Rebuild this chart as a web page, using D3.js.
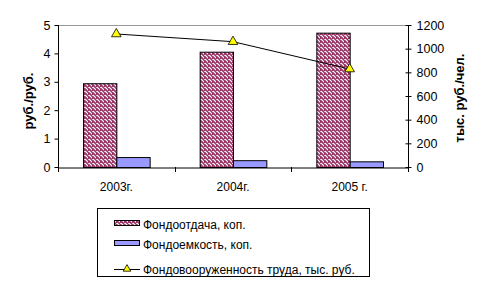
<!DOCTYPE html>
<html><head><meta charset="utf-8">
<script src="https://cdn.jsdelivr.net/npm/d3@7"></script>
<style>body{margin:0;background:#fff}svg{display:block;font-family:"Liberation Sans",Arial,sans-serif}</style>
</head><body><svg id="c" width="491" height="286"></svg>
<script>
const categories = ["2003г.", "2004г.", "2005 г."];
const fondootdacha = [2.95, 4.06, 4.73];
const fondoemkost = [0.35, 0.24, 0.2];
const fondovooruzh = [1124, 1059, 828];
const leftTicks = [0, 1, 2, 3, 4, 5];
const rightTicks = [0, 200, 400, 600, 800, 1000, 1200];
const seriesNames = ["Фондоотдача, коп.", "Фондоемкость, коп.", "Фондовооруженность труда, тыс. руб."];

const svg = d3.select("#c");
const L = 58, R = 408, T = 25, B = 167;
const defs = svg.append("defs");
const pat = defs.append("pattern").attr("id","stripe").attr("patternUnits","userSpaceOnUse")
  .attr("width",4).attr("height",4);
pat.append("rect").attr("width",4).attr("height",4).attr("fill","#fff");
pat.append("path").attr("d","M-1,1 l2,2 M0,0 l4,4 M3,-1 l2,2").attr("stroke","#993366").attr("stroke-width",1.7);

const x = d3.scaleBand().domain(categories).range([L, R]).paddingInner(0).paddingOuter(0);
const yL = d3.scaleLinear().domain([0,5]).range([B, T]);
const yR = d3.scaleLinear().domain([0,1200]).range([B, T]);
const barW = x.bandwidth() * 0.2857;

svg.append("line").attr("x1",L).attr("x2",R).attr("y1",T+0.5).attr("y2",T+0.5).attr("stroke","#999");

svg.selectAll(".b1").data(fondootdacha).join("rect")
  .attr("x",(d,i)=>x(categories[i])+x.bandwidth()/2-barW+0.5)
  .attr("y",d=>yL(d)+0.5).attr("width",barW).attr("height",d=>B-yL(d))
  .attr("fill","url(#stripe)").attr("stroke","#000").attr("stroke-width",1);
svg.selectAll(".b2").data(fondoemkost).join("rect")
  .attr("x",(d,i)=>x(categories[i])+x.bandwidth()/2+0.5)
  .attr("y",d=>yL(d)+0.5).attr("width",barW).attr("height",d=>B-yL(d))
  .attr("fill","#9999ff").attr("stroke","#000").attr("stroke-width",1);

const ax = svg.append("g").attr("transform",`translate(0,${B+0.5})`)
  .call(d3.axisBottom(x).tickSize(0).tickPadding(15));
ax.select(".domain").attr("stroke","#000");
ax.selectAll("text").attr("font-size",12).attr("fill","#000").attr("font-family","Liberation Sans, Arial");
const seps = [L, ...categories.map(c=>x(c)+x.bandwidth())];
svg.selectAll(".sep").data(seps).join("line")
  .attr("x1",d=>Math.round(d)+0.5).attr("x2",d=>Math.round(d)+0.5)
  .attr("y1",B).attr("y2",B+5).attr("stroke","#000");

const al = svg.append("g").attr("transform",`translate(${L+0.5},0)`)
  .call(d3.axisLeft(yL).tickValues(leftTicks).tickSize(4).tickPadding(4).tickFormat(d3.format("d")));
al.select(".domain").attr("stroke","#000").attr("d",`M0,${T}V${B}`);
al.selectAll("text").attr("font-size",12.5).attr("fill","#000").attr("font-family","Liberation Sans, Arial");

const ar = svg.append("g").attr("transform",`translate(${R+0.5},0)`)
  .call(d3.axisRight(yR).tickValues(rightTicks).tickSize(3).tickPadding(5).tickFormat(d3.format("d")));
ar.select(".domain").attr("stroke","#000").attr("d",`M0,${T}V${B}`);
ar.selectAll(".tick line").attr("x1",-3);
ar.selectAll("text").attr("font-size",12.5).attr("fill","#000").attr("font-family","Liberation Sans, Arial");

const line = d3.line().x((d,i)=>x(categories[i])+x.bandwidth()/2).y(d=>yR(d));
svg.append("path").datum(fondovooruzh).attr("d",line).attr("fill","none").attr("stroke","#000").attr("stroke-width",1);
const tri = d3.symbol().type(d3.symbolTriangle).size(40);
svg.selectAll(".m").data(fondovooruzh).join("path")
  .attr("transform",(d,i)=>`translate(${x(categories[i])+x.bandwidth()/2},${yR(d)})`)
  .attr("d",tri).attr("fill","#ffff00").attr("stroke","#000").attr("stroke-width",0.8);

svg.append("text").attr("transform",`translate(33,${(T+B)/2+5}) rotate(-90)`).attr("text-anchor","middle")
  .attr("font-size",13).attr("font-weight","bold").text("руб./руб.");
svg.append("text").attr("transform",`translate(464,${(T+B)/2+2}) rotate(-90)`).attr("text-anchor","middle")
  .attr("font-size",13).attr("font-weight","bold").text("тыс. руб./чел.");

const lg = svg.append("g");
lg.append("rect").attr("x",97.5).attr("y",208.5).attr("width",272).attr("height",68).attr("fill","#fff").attr("stroke","#000");
const rows = [224, 244, 269];
lg.append("rect").attr("x",114.5).attr("y",rows[0]-3.5).attr("width",25).attr("height",5).attr("fill","url(#stripe)").attr("stroke","#000");
lg.append("rect").attr("x",114.5).attr("y",rows[1]-3.5).attr("width",25).attr("height",5).attr("fill","#9999ff").attr("stroke","#000");
lg.append("line").attr("x1",114).attr("x2",140).attr("y1",rows[2]+0.5).attr("y2",rows[2]+0.5).attr("stroke","#000");
lg.append("path").attr("transform",`translate(127,${rows[2]})`).attr("d",d3.symbol().type(d3.symbolTriangle).size(25)).attr("fill","#ffff00").attr("stroke","#000").attr("stroke-width",0.8);
lg.selectAll(".lt").data(seriesNames).join("text").attr("x",143).attr("y",(d,i)=>rows[i]+4.5)
  .attr("font-size",12).attr("fill","#000").text(d=>d);
</script></body></html>
